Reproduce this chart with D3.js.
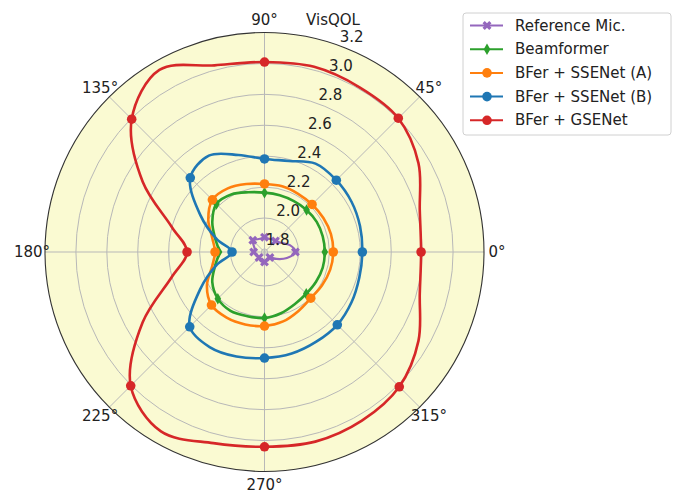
<!DOCTYPE html>
<html>
<head>
<meta charset="utf-8">
<script src="https://cdnjs.cloudflare.com/ajax/libs/d3/7.8.5/d3.min.js"></script>
<style>
body { margin: 0; background: #fff; }
svg text { font-family: "DejaVu Sans", sans-serif; fill: #222; }
</style>
</head>
<body>
<svg id="chart" width="684" height="495"></svg>
<script>
// angles in degrees, counter-clockwise from east
var angles = [0, 15, 30, 45, 60, 75, 90, 105, 120, 135, 150, 165,
              180, 195, 210, 225, 240, 255, 270, 285, 300, 315, 330, 345];

// VisQOL per angle
var refMic     = [1.98, 1.95, 1.90, 1.88, 1.875, 1.87, 1.875, 1.87, 1.875, 1.887, 1.86, 1.845,
                  1.85, 1.84, 1.835, 1.83, 1.84, 1.845, 1.845, 1.835, 1.825, 1.83, 1.87, 1.93];
var beamformer = [2.17, 2.17, 2.17, 2.165, 2.16, 2.16, 2.164, 2.18, 2.21, 2.22, 2.17, 2.11,
                  2.074, 2.11, 2.17, 2.207, 2.22, 2.21, 2.207, 2.19, 2.17, 2.162, 2.165, 2.17];
var sseA       = [2.225, 2.225, 2.22, 2.215, 2.215, 2.22, 2.22, 2.235, 2.255, 2.257, 2.20, 2.13,
                  2.10, 2.13, 2.21, 2.265, 2.27, 2.265, 2.259, 2.245, 2.22, 2.203, 2.21, 2.22];
var sseB       = [2.413, 2.42, 2.43, 2.437, 2.44, 2.39, 2.382, 2.43, 2.50, 2.459, 2.26, 2.10,
                  1.99, 2.10, 2.26, 2.464, 2.49, 2.48, 2.466, 2.46, 2.45, 2.446, 2.43, 2.415];
var gsenet     = [2.793, 2.82, 2.93, 3.004, 3.01, 3.02, 3.009, 3.03, 3.14, 2.995, 2.69, 2.40,
                  2.281, 2.40, 2.69, 3.004, 3.12, 3.06, 3.04, 3.05, 3.04, 3.013, 2.93, 2.82];

var seriesNames = ["Reference Mic.", "Beamformer", "BFer + SSENet (A)", "BFer + SSENet (B)", "BFer + GSENet"];
var seriesColors = ["#9467bd", "#2ca02c", "#ff7f0e", "#1f77b4", "#d62728"];
var seriesMarkers = ["X", "d", "o", "o", "o"];
var seriesValues = [refMic, beamformer, sseA, sseB, gsenet];

var rTicks = [1.8, 2.0, 2.2, 2.4, 2.6, 2.8, 3.0, 3.2];
var thetaTicks = [0, 45, 90, 135, 180, 225, 270, 315];
var markEvery = 45;

var svg = d3.select("#chart");
var cx = 264.5, cy = 252, R = 219.5;
var r = d3.scaleLinear().domain([1.78, 3.2]).range([0, R]);

function rad(deg) { return deg * Math.PI / 180; }
function pt(deg, radius) {
    return [cx + radius * Math.cos(rad(deg)), cy - radius * Math.sin(rad(deg))];
}

// background disc
svg.append("circle")
    .attr("cx", cx).attr("cy", cy).attr("r", R)
    .style("fill", "#fafad2");

// grid
var grid = svg.append("g").attr("class", "grid");
grid.selectAll("circle.ring")
    .data(rTicks.filter(function(d) { return d < 3.2; }))
    .enter()
    .append("circle")
    .attr("class", "ring")
    .attr("cx", cx).attr("cy", cy)
    .attr("r", function(d) { return r(d); })
    .style("fill", "none")
    .style("stroke", "#b8b8b8")
    .style("stroke-width", 1);
grid.selectAll("line.spoke")
    .data(thetaTicks)
    .enter()
    .append("line")
    .attr("class", "spoke")
    .attr("x1", cx).attr("y1", cy)
    .attr("x2", function(d) { return pt(d, R)[0]; })
    .attr("y2", function(d) { return pt(d, R)[1]; })
    .style("stroke", "#b8b8b8")
    .style("stroke-width", 1);

// series
var line = d3.lineRadial()
    .angle(function(d) { return Math.PI / 2 - rad(d[0]); })
    .radius(function(d) { return r(d[1]); })
    .curve(d3.curveCatmullRomClosed.alpha(0.5));

function markerPath(m) {
    if (m === "o") return d3.symbol(d3.symbolCircle, 72)();
    if (m === "d") return d3.symbol(d3.symbolDiamond, 38)();
    return d3.symbol(d3.symbolCross, 50)();
}
function markerRot(m) { return m === "X" ? " rotate(45)" : ""; }

var plot = svg.append("g").attr("transform", "translate(" + cx + "," + cy + ")");
seriesValues.forEach(function(vals, i) {
    var pts = d3.zip(angles, vals);
    plot.append("path")
        .attr("d", line(pts))
        .style("fill", "none")
        .style("stroke", seriesColors[i])
        .style("stroke-width", i === 0 ? 2.2 : 2.6)
        .style("stroke-linejoin", "round");
    plot.selectAll("path.mk" + i)
        .data(pts.filter(function(d) { return d[0] % markEvery === 0; }))
        .enter()
        .append("path")
        .attr("class", "mk" + i)
        .attr("d", markerPath(seriesMarkers[i]))
        .attr("transform", function(d) {
            var p = pt(d[0], r(d[1]));
            return "translate(" + (p[0] - cx) + "," + (p[1] - cy) + ")" + markerRot(seriesMarkers[i]);
        })
        .style("fill", seriesColors[i]);
});

// outer spine
svg.append("circle")
    .attr("cx", cx).attr("cy", cy).attr("r", R)
    .style("fill", "none")
    .style("stroke", "#333")
    .style("stroke-width", 1.1);

// theta labels
svg.selectAll("text.theta")
    .data(thetaTicks)
    .enter()
    .append("text")
    .attr("class", "theta")
    .attr("x", function(d) { return pt(d, R + 13)[0]; })
    .attr("y", function(d) { return pt(d, R + 13)[1]; })
    .attr("text-anchor", "middle")
    .attr("dominant-baseline", "central")
    .style("font-size", "15px")
    .text(function(d) { return d + "°"; });

// radial labels
svg.selectAll("text.rlab")
    .data(rTicks)
    .enter()
    .append("text")
    .attr("class", "rlab")
    .attr("x", function(d) { return pt(70, r(d))[0] + 12; })
    .attr("y", function(d) { return pt(70, r(d))[1] - 9; })
    .attr("text-anchor", "middle")
    .attr("dominant-baseline", "central")
    .style("font-size", "15px")
    .text(function(d) { return d.toFixed(1); });

svg.append("text")
    .attr("x", 333).attr("y", 20)
    .attr("text-anchor", "middle")
    .attr("dominant-baseline", "central")
    .style("font-size", "15px")
    .text("VisQOL");

// legend
var legend = svg.append("g").attr("transform", "translate(463,13)");
legend.append("rect")
    .attr("width", 208).attr("height", 122)
    .attr("rx", 3)
    .style("fill", "#fff")
    .style("stroke", "#d0d0d0");
var items = legend.selectAll("g.item")
    .data(seriesNames)
    .enter()
    .append("g")
    .attr("class", "item")
    .attr("transform", function(d, i) { return "translate(0," + (12.5 + i * 23.7) + ")"; });
items.append("line")
    .attr("x1", 7).attr("x2", 40)
    .style("stroke", function(d, i) { return seriesColors[i]; })
    .style("stroke-width", 2);
items.append("path")
    .attr("d", function(d, i) { return markerPath(seriesMarkers[i]); })
    .attr("transform", function(d, i) { return "translate(24,0)" + markerRot(seriesMarkers[i]); })
    .style("fill", function(d, i) { return seriesColors[i]; });
items.append("text")
    .attr("x", 52)
    .attr("dominant-baseline", "central")
    .style("font-size", "15px")
    .text(function(d) { return d; });
</script>
</body>
</html>
